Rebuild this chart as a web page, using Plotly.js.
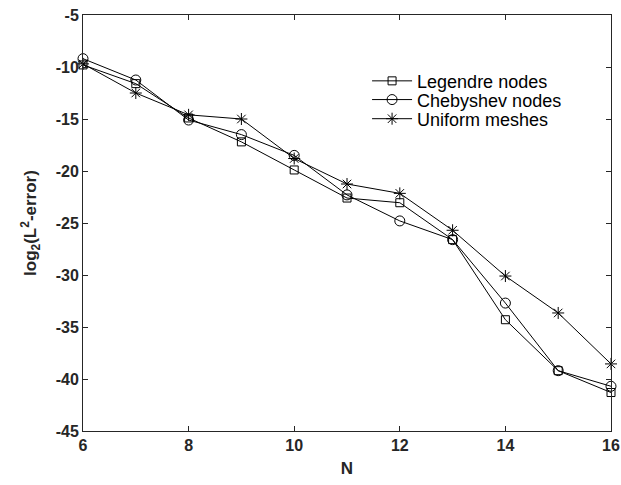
<!DOCTYPE html>
<html>
<head>
<meta charset="utf-8">
<script src="https://cdn.plot.ly/plotly-3.0.1.min.js"></script>
<style>body{margin:0;padding:0;background:#fff}#chart{width:621px;height:485px}</style>
</head>
<body>
<div id="chart"></div>
<script>
const N = [6, 7, 8, 9, 10, 11, 12, 13, 14, 15, 16];
const legendre = [-9.8, -11.6, -14.9, -17.2, -19.9, -22.6, -23.05, -26.6, -34.3, -39.2, -41.3];
const chebyshev = [-9.2, -11.25, -15.1, -16.5, -18.5, -22.3, -24.8, -26.6, -32.7, -39.2, -40.7];
const uniform = [-9.7, -12.5, -14.6, -15.0, -18.8, -21.25, -22.15, -25.7, -30.1, -33.65, -38.55];
const seriesNames = ['Legendre nodes', 'Chebyshev nodes', 'Uniform meshes'];
const xTicks = [6, 8, 10, 12, 14, 16];
const yTicks = [-45, -40, -35, -30, -25, -20, -15, -10, -5];

const common = {type: 'scatter', mode: 'lines+markers', cliponaxis: false, line: {color: '#000', width: 1}};
const traces = [
  Object.assign({}, common, {x: N, y: legendre, name: seriesNames[0], legend: 'legend',
    marker: {symbol: 'square-open', size: 8, color: '#000', line: {width: 1, color: '#000'}}}),
  Object.assign({}, common, {x: N, y: chebyshev, name: seriesNames[1], legend: 'legend2',
    marker: {symbol: 'circle-open', size: 10, color: '#000', line: {width: 1, color: '#000'}}}),
  Object.assign({}, common, {x: N, y: uniform, name: seriesNames[2], legend: 'legend3',
    marker: {symbol: 'asterisk-open', size: 10, color: '#000', line: {width: 1, color: '#000'}}})
];

const axisCommon = {
  showgrid: false, zeroline: false, showline: true, mirror: 'ticks',
  linecolor: '#262626', linewidth: 1, ticks: 'inside', ticklen: 5,
  tickcolor: '#262626', tickwidth: 1,
  tickfont: {family: 'Liberation Sans, Arial, sans-serif', size: 16, color: '#262626', weight: 'bold'}
};

function leg(y) {
  return {
    x: 0.538, y: y, xanchor: 'left', yanchor: 'middle',
    bgcolor: 'rgba(255,255,255,0)', borderwidth: 0,
    font: {family: 'Liberation Sans, Arial, sans-serif', size: 18, color: '#000'},
    itemwidth: 40
  };
}

const layout = {
  width: 621, height: 485,
  margin: {l: 83, r: 10, t: 15, b: 54},
  paper_bgcolor: '#fff', plot_bgcolor: '#fff',
  font: {family: 'Liberation Sans, Arial, sans-serif', color: '#262626'},
  xaxis: Object.assign({}, axisCommon, {
    range: [6, 16], tickvals: xTicks, ticktext: xTicks.map(String),
    title: {text: '<b>N</b>', font: {size: 17, color: '#262626'}, standoff: 8}
  }),
  yaxis: Object.assign({}, axisCommon, {
    range: [-45, -5], tickvals: yTicks, ticktext: yTicks.map(String),
    title: {text: '<b>log<sub>2</sub>(L<sup>2</sup>-error)</b>', font: {size: 17, color: '#262626'}, standoff: 14}
  }),
  showlegend: true,
  legend: leg(0.841),
  legend2: leg(0.796),
  legend3: leg(0.750)
};

Plotly.newPlot('chart', traces, layout, {displayModeBar: false, staticPlot: true});
</script>
</body>
</html>
